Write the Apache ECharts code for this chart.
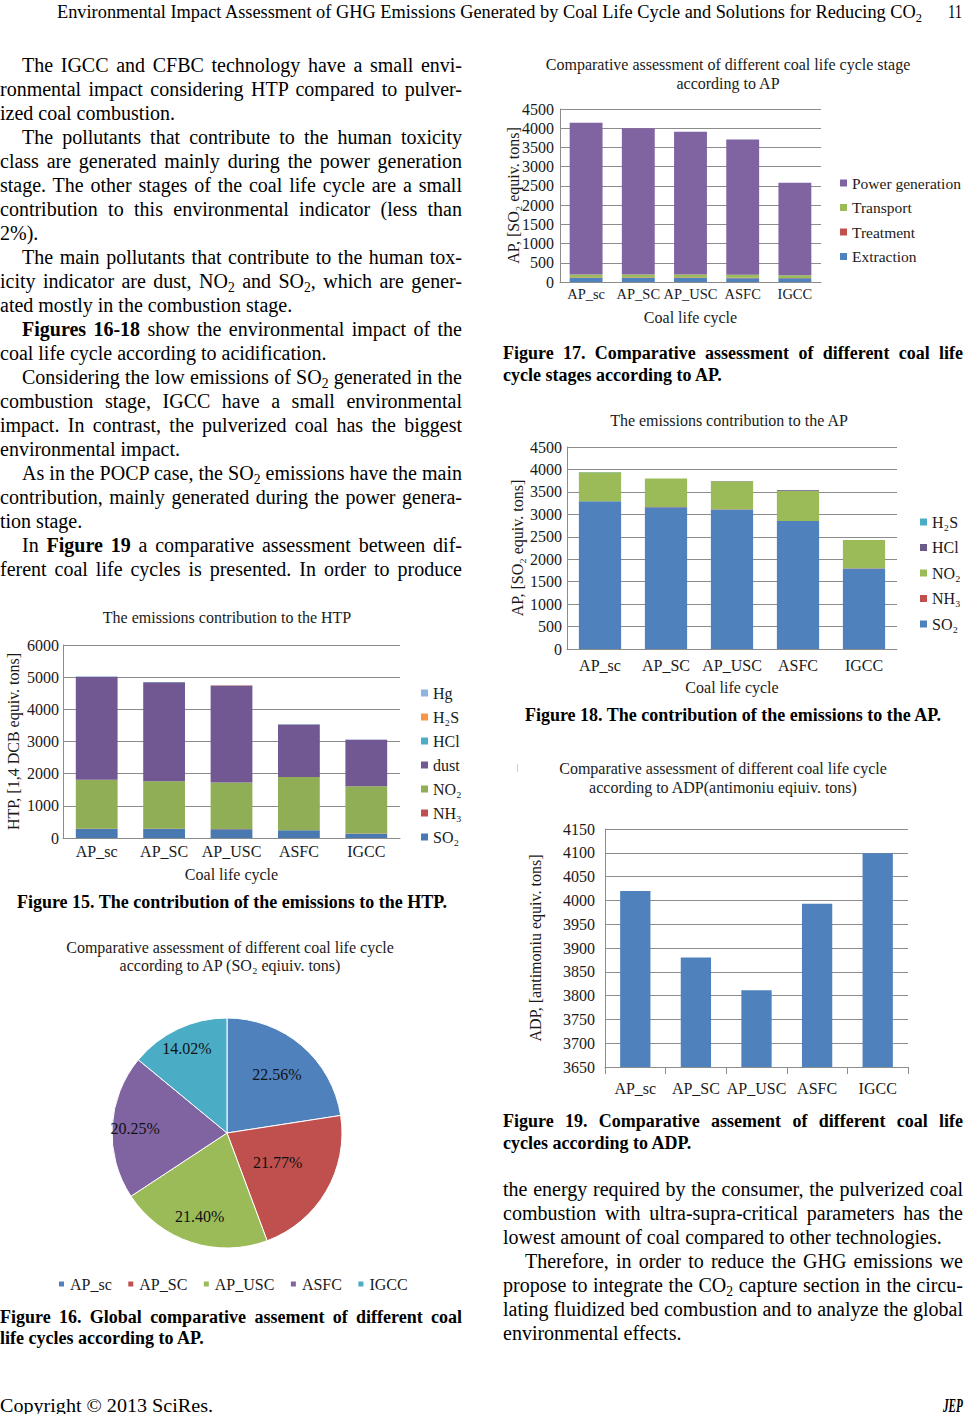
<!DOCTYPE html>
<html><head><meta charset="utf-8">
<script src="https://cdn.jsdelivr.net/npm/echarts@6/dist/echarts.min.js"></script>
<style>
html,body{margin:0;padding:0;background:#fff;}
body{width:965px;height:1414px;position:relative;overflow:hidden;font-family:'Liberation Serif','Times New Roman',serif;color:#000;}
.ln{position:absolute;white-space:nowrap;font-size:20px;line-height:24px;height:24px;}
.cap{position:absolute;white-space:nowrap;font-size:18px;line-height:22px;height:22px;font-weight:bold;}
.hf{position:absolute;white-space:nowrap;transform-origin:0 50%;}
sub{font-size:0.68em;vertical-align:-0.28em;line-height:0;}
.chart{position:absolute;}
</style></head><body>
<div id="f15" class="chart" style="left:0;top:600px;width:470px;height:290px"></div>
<div id="f16" class="chart" style="left:0;top:930px;width:470px;height:380px"></div>
<div id="f17" class="chart" style="left:490px;top:50px;width:475px;height:290px"></div>
<div id="f18" class="chart" style="left:490px;top:400px;width:475px;height:300px"></div>
<div id="f19" class="chart" style="left:490px;top:750px;width:475px;height:350px"></div>
<script>
// ---------- DATA ----------
const categories = ['AP_sc', 'AP_SC', 'AP_USC', 'ASFC', 'IGCC'];
// Figure 15: HTP contribution (1,4 DCB equiv. tons)
const htpSO2  = [280, 280, 275, 240, 135];
const htpNH3  = [4, 4, 4, 4, 3];
const htpNO2  = [1530, 1480, 1450, 1650, 1470];
const htpDust = [3200, 3080, 3010, 1635, 1445];
const htpHCl  = [5, 5, 5, 5, 4];
const htpH2S  = [1, 1, 1, 1, 1];
const htpHg   = [2, 2, 2, 2, 1];
const htpTicks = [0, 6000, 1000];
// Figure 17: AP by life cycle stage (SO2 equiv. tons)
const stageExtraction = [105, 105, 105, 100, 95];
const stageTreatment  = [10, 10, 10, 10, 8];
const stageTransport  = [80, 80, 80, 80, 70];
const stagePower      = [3950, 3805, 3715, 3515, 2410];
const apStageTicks = [0, 4500, 500];
// Figure 18: AP by emission (SO2 equiv. tons)
const apSO2 = [3290, 3160, 3110, 2850, 1795];
const apNH3 = [3, 3, 3, 3, 2];
const apNO2 = [645, 635, 625, 675, 630];
const apHCl = [2, 2, 2, 15, 1];
const apH2S = [1, 1, 1, 1, 1];
const apTicks = [0, 4500, 500];
// Figure 19: ADP (antimoniu equiv. tons)
const adpValues = [4020, 3880, 3811, 3993, 4099];
const adpTicks = [3650, 4150, 50];
// Figure 16: share of AP (%)
const pieShares = [22.56, 21.77, 21.40, 20.25, 14.02];

// ---------- TEXT ----------
const leftLines = [
 {t:'The IGCC and CFBC technology have a small envi-', i:1, j:1},
 {t:'ronmental impact considering HTP compared to pulver-', j:1},
 {t:'ized coal combustion.'},
 {t:'The pollutants that contribute to the human toxicity', i:1, j:1},
 {t:'class are generated mainly during the power generation', j:1},
 {t:'stage. The other stages of the coal life cycle are a small', j:1},
 {t:'contribution to this environmental indicator (less than', j:1},
 {t:'2%).'},
 {t:'The main pollutants that contribute to the human tox-', i:1, j:1},
 {t:'icity indicator are dust, NO<sub>2</sub> and SO<sub>2</sub>, which are gener-', j:1},
 {t:'ated mostly in the combustion stage.'},
 {t:'<b>Figures 16-18</b> show the environmental impact of the', i:1, j:1},
 {t:'coal life cycle according to acidification.'},
 {t:'Considering the low emissions of SO<sub>2</sub> generated in the', i:1, j:1},
 {t:'combustion stage, IGCC have a small environmental', j:1},
 {t:'impact. In contrast, the pulverized coal has the biggest', j:1},
 {t:'environmental impact.'},
 {t:'As in the POCP case, the SO<sub>2</sub> emissions have the main', i:1, j:1},
 {t:'contribution, mainly generated during the power genera-', j:1},
 {t:'tion stage.'},
 {t:'In <b>Figure 19</b> a comparative assessment between dif-', i:1, j:1},
 {t:'ferent coal life cycles is presented. In order to produce', j:1}
];
const rightLines = [
 {t:'the energy required by the consumer, the pulverized coal', j:1},
 {t:'combustion with ultra-supra-critical parameters has the', j:1},
 {t:'lowest amount of coal compared to other technologies.'},
 {t:'Therefore, in order to reduce the GHG emissions we', i:1, j:1},
 {t:'propose to integrate the CO<sub>2</sub> capture section in the circu-', j:1},
 {t:'lating fluidized bed combustion and to analyze the global', j:1},
 {t:'environmental effects.'}
];

function justify(d, w){
  const nat = d.getBoundingClientRect().width;
  const n = (d.textContent.match(/ /g) || []).length;
  if (n > 0) d.style.wordSpacing = ((w - nat) / n) + 'px';
}
function addLine(cls, html, x, yc, w, j, off){
  const d = document.createElement('div');
  d.className = cls; d.innerHTML = html;
  d.style.left = x + 'px'; d.style.top = (yc - off) + 'px';
  document.body.appendChild(d);
  if (j) justify(d, w);
  return d;
}
function placeLines(lines, x, width, y0, step){
  lines.forEach((l, k) => {
    const ind = l.i ? 22 : 0;
    addLine('ln', l.t, x + ind, y0 + k * step, width - ind, l.j, 13.5);
  });
}
placeLines(leftLines, 0, 462, 66, 24);
placeLines(rightLines, 503, 460, 1190, 24);

// captions
function centerCap(html, cx, yc){
  const d = addLine('cap', html, 0, yc, 0, 0, 12);
  const w = d.getBoundingClientRect().width;
  d.style.left = (cx - w / 2) + 'px';
}
centerCap('Figure 15. The contribution of the emissions to the HTP.', 232, 903);
centerCap('Figure 18. The contribution of the emissions to the AP.', 733, 716);
addLine('cap', 'Figure 17. Comparative assessment of different coal life', 503, 354, 460, 1, 12);
addLine('cap', 'cycle stages according to AP.', 503, 376, 0, 0, 12);
addLine('cap', 'Figure 16. Global comparative assement of different coal', 0, 1318, 462, 1, 12);
addLine('cap', 'life cycles according to AP.', 0, 1339, 0, 0, 12);
addLine('cap', 'Figure 19. Comparative assement of different coal life', 503, 1122, 460, 1, 12);
addLine('cap', 'cycles according to ADP.', 503, 1144, 0, 0, 12);

// header / footer
function fitText(html, x, yc, w, size, style){
  const d = document.createElement('div');
  d.className = 'hf'; d.innerHTML = html;
  d.style.fontSize = size + 'px'; d.style.lineHeight = (size + 2) + 'px';
  if (style) d.style.cssText += style;
  d.style.left = x + 'px'; d.style.top = (yc - (size + 2) / 2) + 'px';
  document.body.appendChild(d);
  const nat = d.getBoundingClientRect().width;
  d.style.transform = 'scaleX(' + (w / nat) + ')';
}
fitText('Environmental Impact Assessment of GHG Emissions Generated by Coal Life Cycle and Solutions for Reducing CO<sub>2</sub>', 57, 11, 865, 19);
fitText('11', 948, 11, 14, 19);
fitText('Copyright © 2013 SciRes.', 0, 1406, 213, 18);
fitText('JEP', 943, 1406, 20, 18, 'font-weight:bold;font-style:italic;');

// ---------- CHARTS ----------
const FONT = 'Liberation Serif';
const TXT = '#1a1a1a';
const GRID = '#8c8c8c';
const C = {blue:'#4F81BD', red:'#C0504D', green:'#9BBB59', purple:'#8064A2', aqua:'#4BACC6', orange:'#F79646', lblue:'#8EB4E3'};
const ts = (sz) => ({fontSize: sz || 16, color: TXT, fontFamily: FONT, fontWeight: 'normal'});
const plain = v => String(v);

function titleOpt(text, cx, top, lh){
  return {text, left: cx, top, textAlign: 'center', padding: 0, itemGap: 0,
    textStyle: Object.assign(ts(16), {lineHeight: lh || 18})};
}
function catAxis(name, nameGap, margin, ticks, size){
  return {type: 'category', data: categories, name, nameLocation: 'middle', nameGap,
    nameMoveOverlap: false,
    nameTextStyle: ts(16),
    axisLine: {show: true, lineStyle: {color: GRID, width: 1}},
    axisTick: ticks ? {show: true, length: 7, lineStyle: {color: GRID}} : {show: false},
    axisLabel: Object.assign(ts(size || 16), {margin, interval: 0, hideOverlap: false})};
}
function valAxis(t, name, nameGap, margin){
  return {type: 'value', min: t[0], max: t[1], interval: t[2], name, nameLocation: 'middle',
    nameRotate: 90, nameGap, nameMoveOverlap: false, nameTextStyle: ts(16),
    axisLine: {show: true, lineStyle: {color: GRID, width: 1}},
    axisTick: {show: false},
    axisLabel: Object.assign(ts(16), {margin, formatter: plain}),
    splitLine: {show: true, lineStyle: {color: GRID, width: 1}}};
}
function legendOpt(left, top, gap, data, orient, size){
  return {orient: orient || 'vertical', left, top, padding: 0, itemWidth: 7, itemHeight: 7, itemGap: gap,
    icon: 'rect', selectedMode: false, textStyle: ts(size || 16), data};
}
function bar(name, data, color, w){
  return {name, type: 'bar', stack: 'a', data, barWidth: w, itemStyle: {color}, silent: true};
}
function init(id){ return echarts.init(document.getElementById(id), null, {renderer: 'svg'}); }

// Figure 15
init('f15').setOption({
  animation: false,
  title: titleOpt('The emissions contribution to the HTP', 227, 8),
  legend: legendOpt(421, 85, 8, ['Hg', 'H₂S', 'HCl', 'dust', 'NO₂', 'NH₃', 'SO₂']),
  grid: {left: 63, top: 45, width: 337, height: 193, containLabel: false, outerBoundsMode: 'none'},
  xAxis: catAxis('Coal life cycle', 28, 5),
  yAxis: valAxis(htpTicks, 'HTP, [1,4 DCB equiv. tons]', 42, 4),
  series: [
    bar('SO₂', htpSO2, '#4A78B0', '62%'),
    bar('NH₃', htpNH3, C.red, '62%'),
    bar('NO₂', htpNO2, '#8FAE55', '62%'),
    bar('dust', htpDust, '#715893', '62%'),
    bar('HCl', htpHCl, C.aqua, '62%'),
    bar('H₂S', htpH2S, C.orange, '62%'),
    bar('Hg', htpHg, C.lblue, '62%')
  ]
});

// Figure 17
init('f17').setOption({
  animation: false,
  title: titleOpt('Comparative assessment of different coal life cycle stage\naccording to AP', 238, 5, 19),
  legend: legendOpt(350, 125, 8.5, ['Power generation', 'Transport', 'Treatment', 'Extraction'], 'vertical', 15.5),
  grid: {left: 70, top: 59, width: 261, height: 173, containLabel: false, outerBoundsMode: 'none'},
  xAxis: catAxis('Coal life cycle', 27, 4, false, 14.5),
  yAxis: valAxis(apStageTicks, 'AP, [SO₂ equiv. tons]', 39, 6),
  series: [
    bar('Extraction', stageExtraction, C.blue, '63%'),
    bar('Treatment', stageTreatment, C.red, '63%'),
    bar('Transport', stageTransport, C.green, '63%'),
    bar('Power generation', stagePower, C.purple, '63%')
  ]
});

// Figure 18
init('f18').setOption({
  animation: false,
  title: titleOpt('The emissions contribution to the AP', 239, 11),
  legend: legendOpt(430, 114, 9.5, ['H₂S', 'HCl', 'NO₂', 'NH₃', 'SO₂']),
  grid: {left: 77, top: 47, width: 330, height: 202, containLabel: false, outerBoundsMode: 'none'},
  xAxis: catAxis('Coal life cycle', 30, 8),
  yAxis: valAxis(apTicks, 'AP, [SO₂ equiv. tons]', 42, 5),
  series: [
    bar('SO₂', apSO2, C.blue, '64%'),
    bar('NH₃', apNH3, C.red, '64%'),
    bar('NO₂', apNO2, C.green, '64%'),
    bar('HCl', apHCl, '#6a5a8a', '64%'),
    bar('H₂S', apH2S, C.aqua, '64%')
  ]
});

// Figure 19
init('f19').setOption({
  animation: false,
  title: titleOpt('Comparative assessment of different coal life cycle\naccording to ADP(antimoniu eqiuiv. tons)', 233, 9, 19),
  graphic: [{type: 'rect', left: 27, top: 14, shape: {width: 1, height: 8}, style: {fill: '#cfcfcf'}}],
  grid: {left: 115, top: 79, width: 303, height: 238, containLabel: false, outerBoundsMode: 'none'},
  xAxis: catAxis('', 0, 13, true),
  yAxis: valAxis(adpTicks, 'ADP, [antimoniu equiv. tons]', 62, 10),
  series: [{name: 'ADP', type: 'bar', data: adpValues, barWidth: '50%', itemStyle: {color: C.blue}, silent: true, clip: true}]
});

// Figure 16
const PCX = 227, PCY = 203;
const pieLabelK = [1.27, 0.97, 1.45, 1.52, 1.55]; // label distance tuning (Excel best-fit placement)
init('f16').setOption({
  animation: false,
  title: titleOpt('Comparative assessment of different coal life cycle\naccording to AP (SO₂ eqiuiv. tons)', 230, 8, 18),
  legend: legendOpt(57, 346, 14.5, categories, 'horizontal'),
  color: [C.blue, C.red, C.green, C.purple, C.aqua],
  series: [{
    type: 'pie', center: [PCX, PCY], radius: 115, startAngle: 90, clockwise: true, silent: true,
    data: categories.map((c, k) => ({name: c, value: pieShares[k]})),
    itemStyle: {borderColor: '#ffffff', borderWidth: 1},
    label: Object.assign(ts(16), {show: true, position: 'inside', color: '#111',
      formatter: p => p.value.toFixed(2) + '%'}),
    labelLine: {show: false},
    labelLayout: function (p) {
      const r = p.labelRect, k = pieLabelK[p.dataIndex];
      const cx = r.x + r.width / 2, cy = r.y + r.height / 2;
      return {x: PCX + (cx - PCX) * k, y: PCY + (cy - PCY) * k, align: 'center', verticalAlign: 'middle'};
    }
  }]
});
</script>
</body></html>
